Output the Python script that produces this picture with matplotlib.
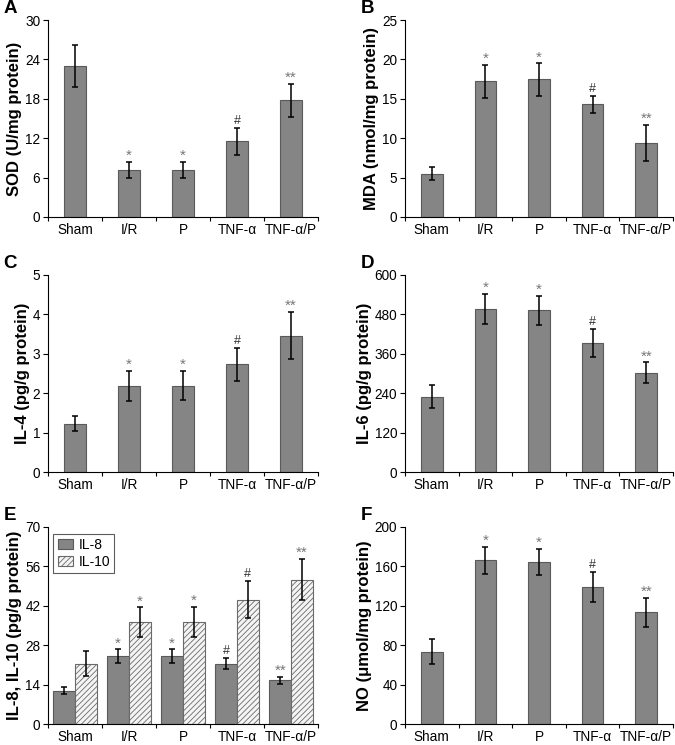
import numpy as np
import matplotlib
matplotlib.use('Agg')
import matplotlib.pyplot as plt

plt.rcParams['font.family'] = ['Liberation Sans', 'DejaVu Sans']
plt.rcParams['hatch.color'] = '#8a8a8a'
plt.rcParams['hatch.linewidth'] = 0.6

groups = ['Sham', 'I/R', 'P', 'TNF-\u03b1', 'TNF-\u03b1/P']

# A - SOD
sod = [23.0, 7.2, 7.2, 11.5, 17.8]
sod_err = [3.2, 1.2, 1.2, 2.0, 2.5]
sod_sig = ['', '*', '*', '#', '**']

# B - MDA
mda = [5.5, 17.25, 17.45, 14.3, 9.4]
mda_err = [0.85, 2.1, 2.05, 1.05, 2.25]
mda_sig = ['', '*', '*', '#', '**']

# C - IL-4
il4 = [1.23, 2.18, 2.19, 2.73, 3.46]
il4_err = [0.2, 0.38, 0.37, 0.41, 0.6]
il4_sig = ['', '*', '*', '#', '**']

# D - IL-6
il6 = [229, 497, 492, 394, 302]
il6_err = [35, 45, 45, 43, 32]
il6_sig = ['', '*', '*', '#', '**']

# E - IL-8 / IL-10
il8 = [11.9, 24.1, 24.1, 21.4, 15.5]
il8_err = [1.2, 2.4, 2.4, 2.0, 1.3]
il8_sig = ['', '*', '*', '#', '**']
il10 = [21.4, 36.1, 36.3, 44.2, 51.3]
il10_err = [4.4, 5.3, 5.3, 6.5, 7.3]
il10_sig = ['', '*', '*', '#', '**']

# F - NO
no = [73.6, 166, 164.4, 139, 113.6]
no_err = [12.2, 14, 13.5, 15.3, 14.7]
no_sig = ['', '*', '*', '#', '**']

BAR = '#858585'
EDGE = '#5a5a5a'


def style_axes(ax, ylim, yticks, ylabel, letter):
    ax.set_xlim(-0.5, 4.5)
    ax.set_ylim(*ylim)
    ax.set_yticks(yticks)
    ax.set_xticks(np.arange(len(groups)))
    ax.set_xticklabels(groups, fontsize=9.8)
    ax.set_xticks(np.arange(-0.5, 5, 1.0), minor=True)
    ax.tick_params(axis='x', which='major', length=0, pad=4)
    ax.tick_params(axis='x', which='minor', length=3, width=0.8, direction='out')
    ax.tick_params(axis='y', which='major', length=3.5, width=0.8, labelsize=9.8, pad=2)
    for s in ['top', 'right']:
        ax.spines[s].set_visible(False)
    for s in ['left', 'bottom']:
        ax.spines[s].set_linewidth(0.8)
    ax.set_ylabel(ylabel, fontsize=12, fontweight='bold', labelpad=2)
    ax.text(-0.165, 1.06, letter, transform=ax.transAxes, fontsize=13.5,
            fontweight='bold', va='center', ha='left')


def sig_marks(ax, xs, vals, errs, sigs, off):
    for x, v, e, s in zip(xs, vals, errs, sigs):
        if not s:
            continue
        if s == '#':
            ax.text(x, v + e + off, s, ha='center', va='bottom', fontsize=9, color='#333333')
        else:
            ax.text(x, v + e - off, s, ha='center', va='bottom', fontsize=11, color='#777777')


def single_panel(ax, vals, errs, sigs, ylim, yticks, ylabel, letter):
    x = np.arange(len(groups))
    ax.bar(x, vals, width=0.4, color=BAR, edgecolor=EDGE, linewidth=0.8,
           yerr=errs, error_kw=dict(ecolor='black', elinewidth=1.1, capsize=2.5, capthick=1.1))
    sig_marks(ax, x, vals, errs, sigs, (ylim[1] - ylim[0]) * 0.005)
    style_axes(ax, ylim, yticks, ylabel, letter)


fig = plt.figure(figsize=(6.75, 7.45), dpi=100)
W = 745.0
lefts = [48 / 675, 405 / 675]
widths = [270 / 675, 268 / 675]
bottoms = [1 - 217 / W, 1 - 472 / W, 1 - 724 / W]
h = 197 / W

axA = fig.add_axes([lefts[0], bottoms[0], widths[0], h])
axB = fig.add_axes([lefts[1], bottoms[0], widths[1], h])
axC = fig.add_axes([lefts[0], bottoms[1], widths[0], h])
axD = fig.add_axes([lefts[1], bottoms[1], widths[1], h])
axE = fig.add_axes([lefts[0], bottoms[2], widths[0], h])
axF = fig.add_axes([lefts[1], bottoms[2], widths[1], h])

single_panel(axA, sod, sod_err, sod_sig, (0, 30), [0, 6, 12, 18, 24, 30], 'SOD (U/mg protein)', 'A')
single_panel(axB, mda, mda_err, mda_sig, (0, 25), [0, 5, 10, 15, 20, 25], 'MDA (nmol/mg protein)', 'B')
single_panel(axC, il4, il4_err, il4_sig, (0, 5), [0, 1, 2, 3, 4, 5], 'IL-4 (pg/g protein)', 'C')
single_panel(axD, il6, il6_err, il6_sig, (0, 600), [0, 120, 240, 360, 480, 600], 'IL-6 (pg/g protein)', 'D')
single_panel(axF, no, no_err, no_sig, (0, 200), [0, 40, 80, 120, 160, 200], 'NO (\u03bcmol/mg protein)', 'F')

# E grouped
x = np.arange(len(groups))
ekw = dict(ecolor='black', elinewidth=1.1, capsize=2.5, capthick=1.1)
axE.bar(x - 0.2, il8, width=0.4, color=BAR, edgecolor=EDGE, linewidth=0.8,
        yerr=il8_err, error_kw=ekw, label='IL-8')
axE.bar(x + 0.2, il10, width=0.4, color='#f4f4f4', edgecolor='#6a6a6a', linewidth=0.8,
        hatch='//////', yerr=il10_err, error_kw=ekw, label='IL-10')
sig_marks(axE, x - 0.2, il8, il8_err, il8_sig, 0.35)
sig_marks(axE, x + 0.2, il10, il10_err, il10_sig, 0.35)
style_axes(axE, (0, 70), [0, 14, 28, 42, 56, 70], 'IL-8, IL-10 (pg/g protein)', 'E')
leg = axE.legend(loc='upper left', bbox_to_anchor=(0.01, 0.98), fontsize=10, frameon=True,
                 fancybox=False, edgecolor='#333333', handlelength=1.1, handleheight=0.7,
                 borderpad=0.3, labelspacing=0.2, handletextpad=0.4, borderaxespad=0.2)
leg.get_frame().set_linewidth(0.8)

fig.savefig('out.png', dpi=100)
